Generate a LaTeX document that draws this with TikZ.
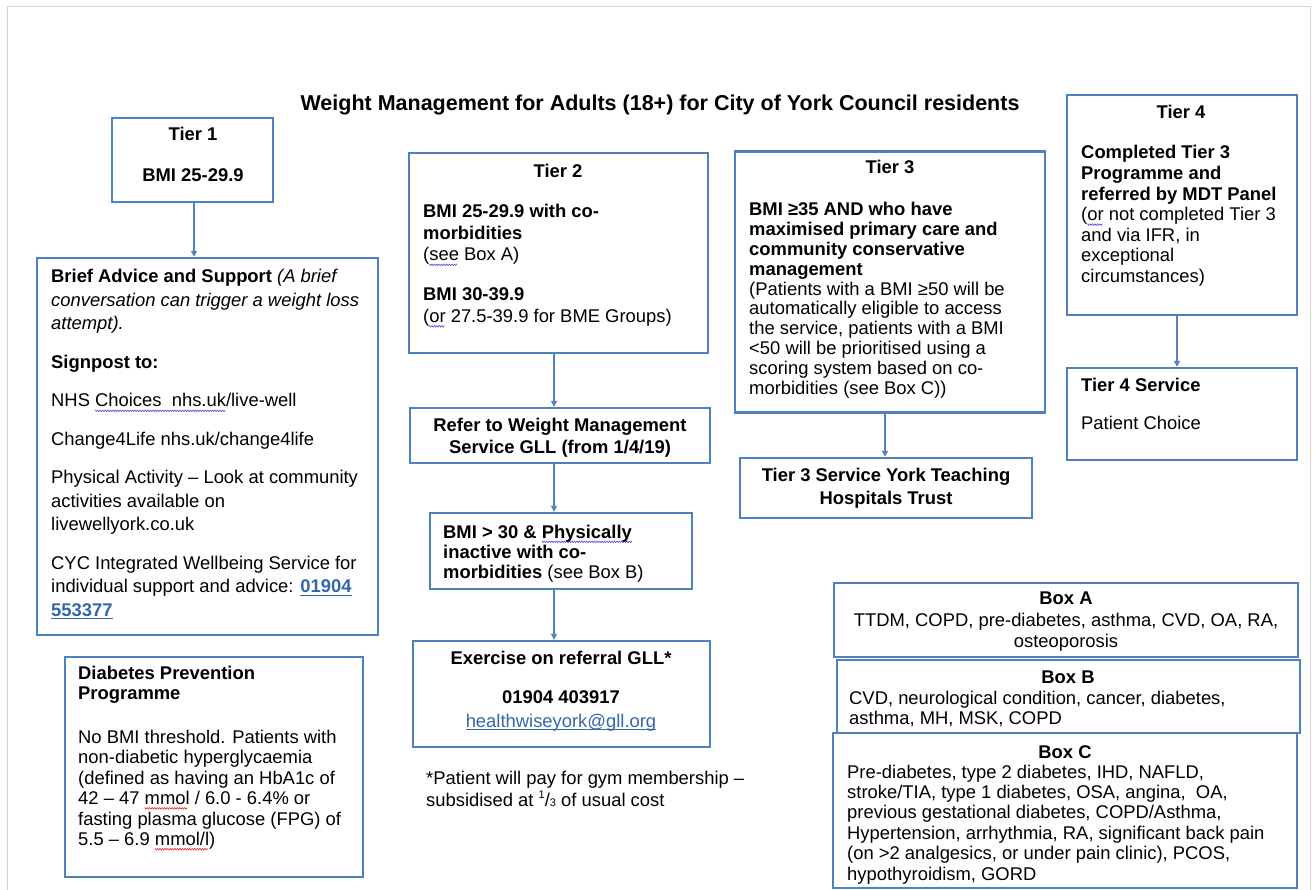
\documentclass[tikz,border=0pt]{standalone}
\usepackage{fontspec}
\setmainfont{Liberation Sans}
\usetikzlibrary{arrows.meta}
\definecolor{boxblue}{RGB}{79,129,189}
\definecolor{arrblue}{RGB}{84,130,192}
\definecolor{linkblue}{RGB}{52,103,168}
\definecolor{pagegrey}{RGB}{212,212,212}
\definecolor{sqblue}{RGB}{70,70,235}
\definecolor{sqred}{RGB}{230,40,40}
\newcommand\sqline[2]{\setbox0\hbox{#2}\rlap{\leaders\hbox{\tikz[baseline=0pt,trim left=0pt,trim right=2.5pt]\draw[#1,line width=0.6pt,line cap=round] (0pt,-3pt) -- (1.25pt,-4.6pt) -- (2.5pt,-3pt);}\hskip\wd0}\box0\relax}
\newcommand\lnk[1]{\textcolor{linkblue}{\setbox0\hbox{#1}\rlap{\rule[-2.8pt]{\wd0}{1.1pt}}\box0\relax}}
\newcommand\ml[1]{\begin{tabular}[t]{@{}l@{}}#1\end{tabular}}
\newcommand\mc[1]{\begin{tabular}[t]{@{}c@{}}#1\end{tabular}}
\begin{document}
\begin{tikzpicture}[x=1pt,y=-1pt,
  bx/.style={draw=boxblue,line width=2.4pt,inner sep=0pt},
  tl/.style={inner sep=0pt,anchor=base west,font=\fontsize{18.4}{#1}\selectfont},
  tl/.default=22,
  tc/.style={inner sep=0pt,anchor=base,font=\fontsize{18.4}{#1}\selectfont},
  tc/.default=22,
  arr/.style={draw=arrblue,line width=1.3pt,-{Triangle[length=6pt,width=6pt]}}]
\useasboundingbox (0,0) rectangle (1316,890);
% page edge
\draw[pagegrey,line width=1pt] (7,890) -- (7,7) -- (1310,7) -- (1310,890);
% title
\node[inner sep=0pt,anchor=base,font=\fontsize{21.5}{24}\selectfont\bfseries] (title) at (660,111) {Weight Management for Adults (18+) for City of York Council residents};
% boxes
\node[bx,minimum width=161pt,minimum height=84pt] (t1) at (192.5,160) {};
\node[bx,minimum width=341pt,minimum height=377pt] (brief) at (207.5,446.5) {};
\node[bx,minimum width=298pt,minimum height=220pt] (dpp) at (214,767) {};
\node[bx,minimum width=299pt,minimum height=200pt] (t2) at (558.5,253) {};
\node[bx,minimum width=300pt,minimum height=55pt] (refer) at (560,435.5) {};
\node[bx,minimum width=262pt,minimum height=76pt] (bmi) at (561,551) {};
\node[bx,minimum width=297pt,minimum height=106pt] (exer) at (561.5,694) {};
\node[bx,minimum width=310pt,minimum height=261pt] (t3) at (890,282) {};
\node[bx,minimum width=292pt,minimum height=60pt] (t3s) at (886,488) {};
\node[bx,minimum width=230pt,minimum height=220pt] (t4) at (1182,205) {};
\node[bx,minimum width=230pt,minimum height=92pt] (t4s) at (1182,414) {};
\node[bx,minimum width=464pt,minimum height=74pt] (boxA) at (1066,620) {};
\node[bx,minimum width=463pt,minimum height=73pt] (boxB) at (1068.5,696.5) {};
\node[bx,minimum width=464pt,minimum height=155pt] (boxC) at (1065,810.5) {};
% arrows
\coordinate (x1) at (194,0);
\coordinate (x2) at (554,0);
\coordinate (x3) at (885,0);
\coordinate (x4) at (1177,0);
\draw[arr] (t1.south -| x1) -- (brief.north -| x1);
\draw[arr] (t2.south -| x2) -- (refer.north -| x2);
\draw[arr] (refer.south -| x2) -- (bmi.north -| x2);
\draw[arr] (bmi.south -| x2) -- (exer.north -| x2);
\draw[arr] (t3.south -| x3) -- (t3s.north -| x3);
\draw[arr] (t4.south -| x4) -- (t4s.north -| x4);
% tier 1
\node[tc] (t1a) at (193,141) {\textbf{Tier 1}};
\node[tc] (t1b) at (193,182) {\textbf{BMI 25-29.9}};
% brief advice
\node[tl=23.5] (brieftx) at (51,283) {\ml{\textbf{Brief Advice and Support} \textit{(A brief}\\
\textit{conversation can trigger a weight loss}\\
\textit{attempt).}\\[15pt]
\textbf{Signpost to:}\\[15pt]
NHS \sqline{sqblue}{Choices\ \ nhs.uk}/live-well\\[15pt]
Change4Life nhs.uk/change4life\\[15pt]
Physical Activity -- Look at community\\
activities available on\\
livewellyork.co.uk\\[15pt]
CYC Integrated Wellbeing Service for\\
individual support and advice: \lnk{\textbf{01904}}\\
\lnk{\textbf{553377}}}};
% diabetes prevention
\node[tl=20.4] (dpptx) at (78,679) {\ml{\textbf{Diabetes Prevention}\\
\textbf{Programme}\\[23.6pt]
No BMI threshold. Patients with\\
non-diabetic hyperglycaemia\\
(defined as having an HbA1c of\\
42 -- 47 \sqline{sqred}{mmol} / 6.0 - 6.4\% or\\
fasting plasma glucose (FPG) of\\
5.5 -- 6.9 \sqline{sqred}{mmol/l})}};
% tier 2
\node[tc] (t2a) at (558,178) {\textbf{Tier 2}};
\node[tl=21.5] (t2b) at (423,218) {\ml{\textbf{BMI 25-29.9 with co-}\\
\textbf{morbidities}\\
(\sqline{sqblue}{see} Box A)\\[18.5pt]
\textbf{BMI 30-39.9}\\
(\sqline{sqblue}{or} 27.5-39.9 for BME Groups)}};
\node[tc=22] (refertx) at (560,431) {\mc{\textbf{Refer to Weight Management}\\\textbf{Service GLL (from 1/4/19)}}};
\node[tl=20] (bmitx) at (443,538) {\ml{\textbf{BMI > 30 \& \sqline{sqblue}{Physically}}\\
\textbf{inactive with co-}\\
\textbf{morbidities} (see Box B)}};
\node[tc] (exa) at (561,664) {\textbf{Exercise on referral GLL*}};
\node[tc] (exb) at (561,703) {\textbf{01904 403917}};
\node[tc] (exc) at (561,727) {\lnk{healthwiseyork@gll.org}};
\node[tl=22] (foot) at (426,784) {\ml{*Patient will pay for gym membership --\\
subsidised at \raisebox{0.45em}{\fontsize{11}{11}\selectfont 1}/{\fontsize{11}{11}\selectfont 3} of usual cost}};
% tier 3
\node[tc] (t3a) at (890,174) {\textbf{Tier 3}};
\node[tl=19.8] (t3b) at (749,216) {\ml{\textbf{BMI ≥35 AND who have}\\
\textbf{maximised primary care and}\\
\textbf{community conservative}\\
\textbf{management}\\
(Patients with a BMI ≥50 will be\\
automatically eligible to access\\
the service, patients with a BMI\\
<50 will be prioritised using a\\
scoring system based on co-\\
morbidities (see Box C))}};
\node[tc=23] (t3stx) at (886,481) {\mc{\textbf{Tier 3 Service York Teaching}\\\textbf{Hospitals Trust}}};
% tier 4
\node[tc] (t4a) at (1181,119) {\textbf{Tier 4}};
\node[tl=20.6] (t4b) at (1081,159) {\ml{\textbf{Completed Tier 3}\\
\textbf{Programme and}\\
\textbf{referred by MDT Panel}\\
(\sqline{sqblue}{or} not completed Tier 3\\
and via IFR, in\\
exceptional\\
circumstances)}};
\node[tl] (t4sa) at (1081,391) {\textbf{Tier 4 Service}};
\node[tl] (t4sb) at (1081,429) {Patient Choice};
% boxes A B C
\node[tc] (bAa) at (1066,604) {\textbf{Box A}};
\node[tc=21] (bAb) at (1066,626) {\mc{TTDM, COPD, pre-diabetes, asthma, CVD, OA, RA,\\osteoporosis}};
\node[tc] (bBa) at (1068,683) {\textbf{Box B}};
\node[tl=20] (bBb) at (849,704) {\ml{CVD, neurological condition, cancer, diabetes,\\asthma, MH, MSK, COPD}};
\node[tc] (bCa) at (1065,758) {\textbf{Box C}};
\node[tl=20.4] (bCb) at (847,778) {\ml{Pre-diabetes, type 2 diabetes, IHD, NAFLD,\\
stroke/TIA, type 1 diabetes, OSA, angina,\ \ OA,\\
previous gestational diabetes, COPD/Asthma,\\
Hypertension, arrhythmia, RA, significant back pain\\
(on >2 analgesics, or under pain clinic), PCOS,\\
hypothyroidism, GORD}};
\end{tikzpicture}
\end{document}
